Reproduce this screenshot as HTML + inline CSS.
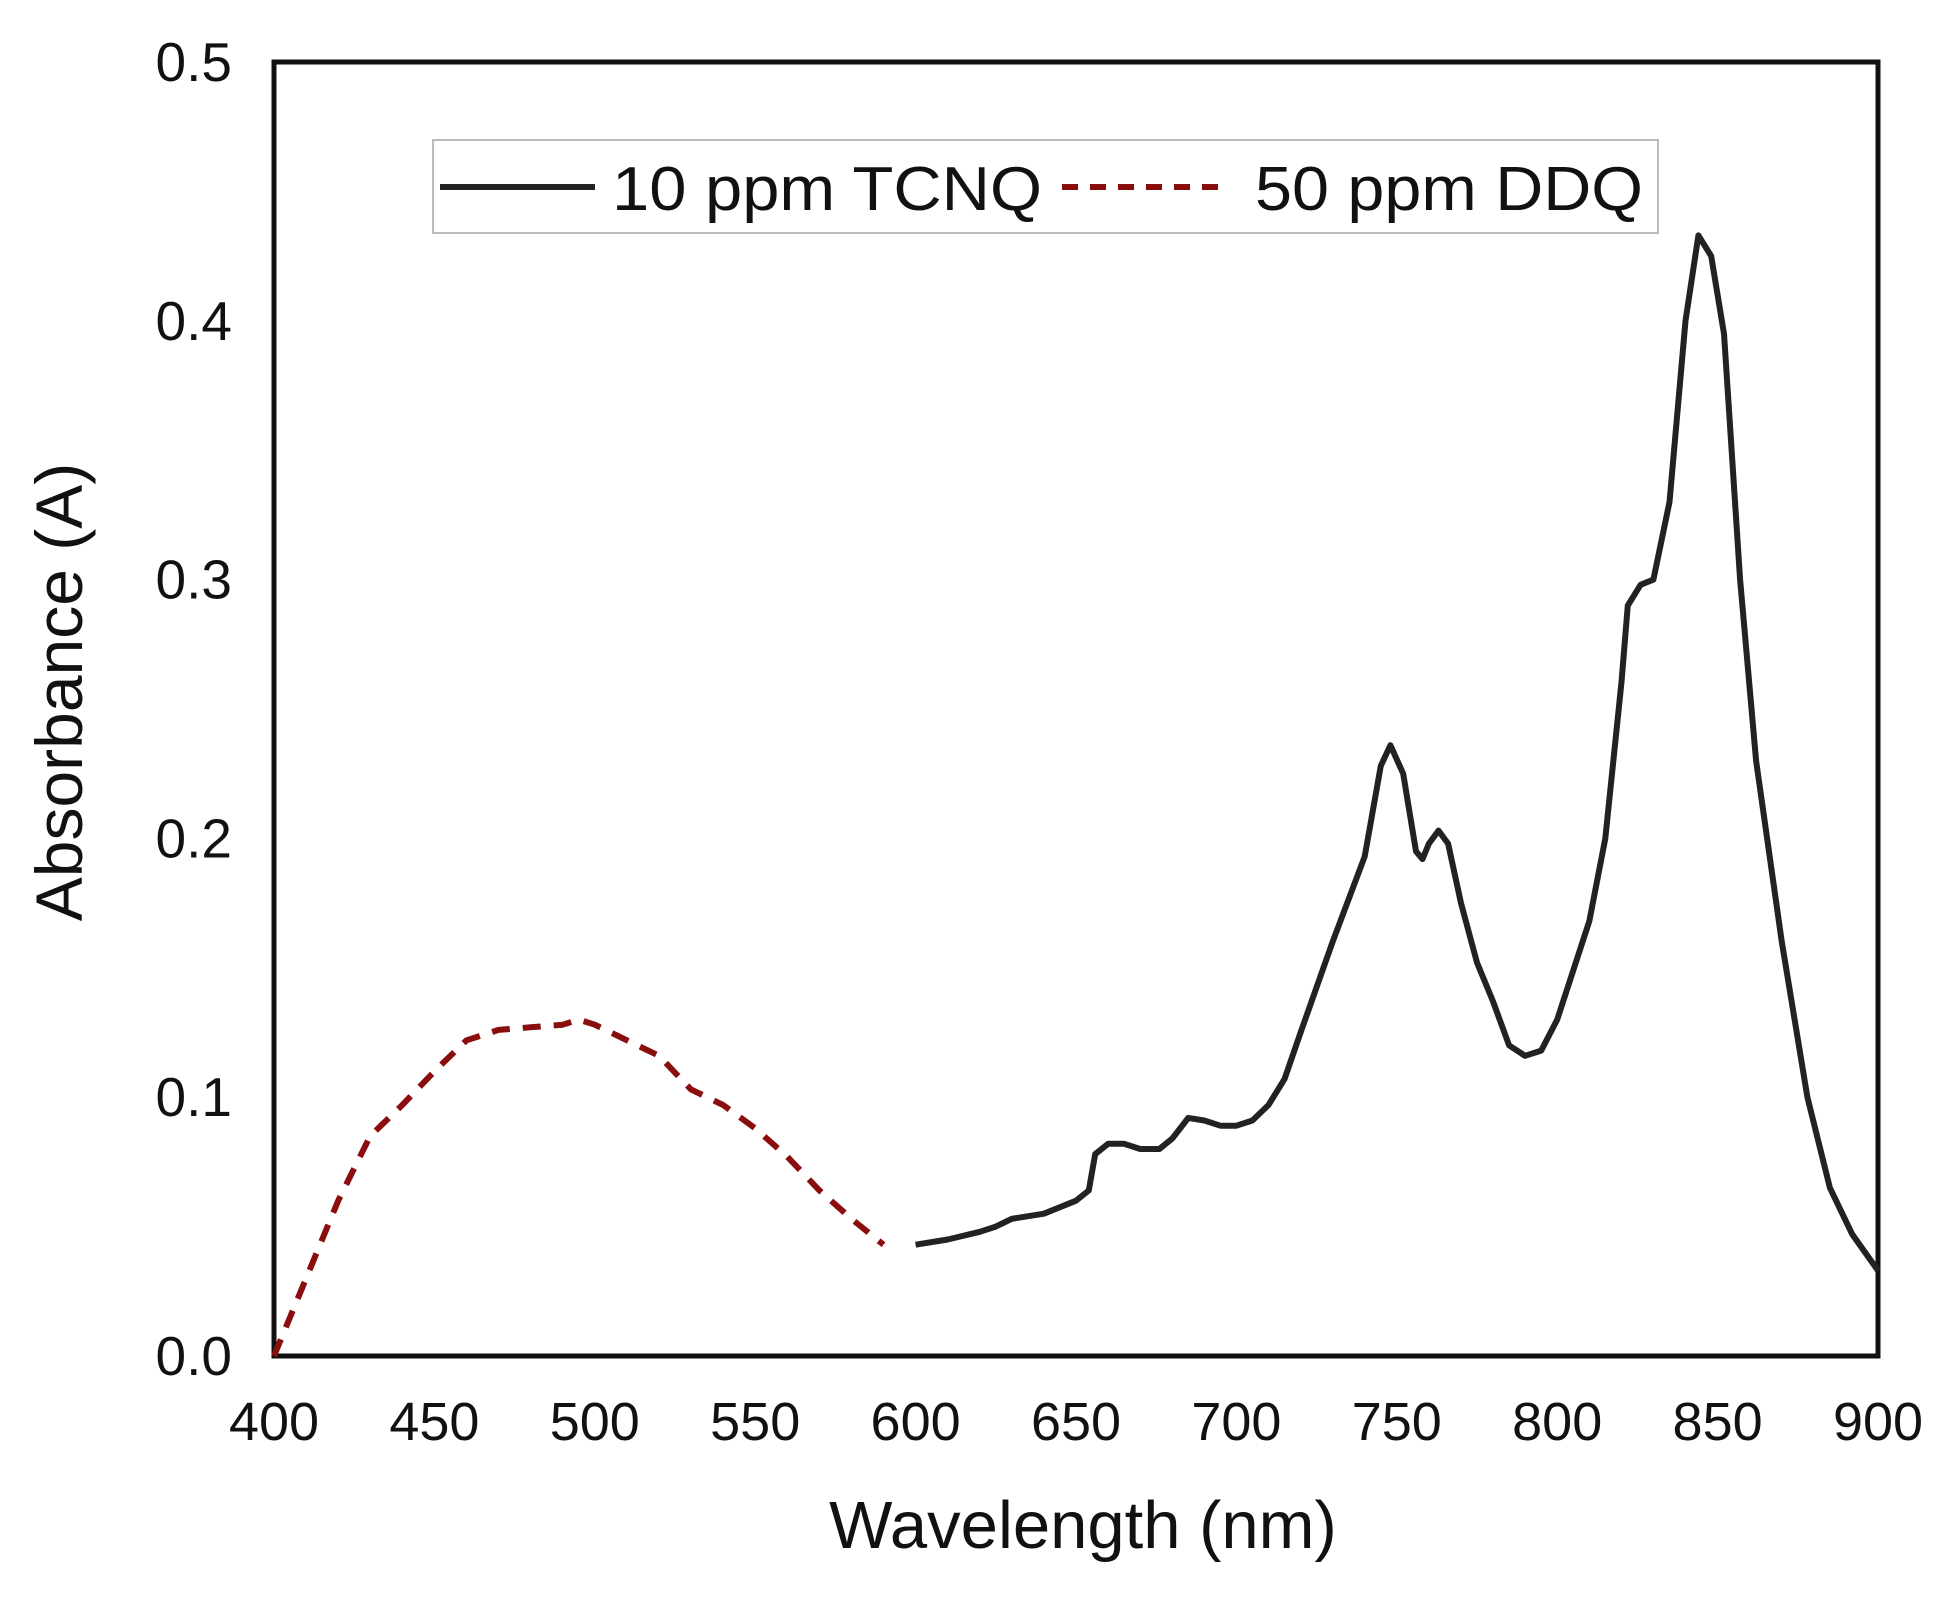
<!DOCTYPE html>
<html><head><meta charset="utf-8"><style>
html,body{margin:0;padding:0;background:#fff;}
svg{display:block;font-family:"Liberation Sans",Arial,sans-serif;}
</style></head><body>
<svg id="chart" width="1954" height="1599" viewBox="0 0 1954 1599">
<g id="plot"></g>
</svg>
<script>
const xTicks=[400,450,500,550,600,650,700,750,800,850,900];
const yTicks=[0.0,0.1,0.2,0.3,0.4,0.5];
const yTickLabels=["0.0","0.1","0.2","0.3","0.4","0.5"];
const ddqX=[400,410,420,430,440,450,460,470,480,490,495,500,510,520,530,540,550,560,570,580,590];
const ddqY=[0.0,0.03,0.06,0.085,0.097,0.11,0.122,0.126,0.127,0.128,0.13,0.128,0.122,0.116,0.103,0.097,0.088,0.077,0.064,0.053,0.043];
const tcnqX=[600,610,620,625,630,640,650,654,656,660,665,670,676,680,685,690,695,700,705,710,715,720,730,740,745,748,752,756,758,760,763,766,770,775,780,785,790,795,800,810,815,820,822,826,830,835,840,844,848,852,857,862,870,878,885,892,900];
const tcnqY=[0.043,0.045,0.048,0.05,0.053,0.055,0.06,0.064,0.078,0.082,0.082,0.08,0.08,0.084,0.092,0.091,0.089,0.089,0.091,0.097,0.107,0.125,0.16,0.193,0.228,0.236,0.225,0.195,0.192,0.198,0.203,0.198,0.175,0.152,0.137,0.12,0.116,0.118,0.13,0.168,0.2,0.26,0.29,0.298,0.3,0.33,0.4,0.433,0.425,0.395,0.3,0.23,0.16,0.1,0.065,0.047,0.033];

const L=274,R=1878,T=62,B=1356;
const xs=v=>L+(v-400)/500*(R-L);
const ys=v=>B-v/0.5*(B-T);
const NS="http://www.w3.org/2000/svg";
const g=document.getElementById('plot');
function mk(tag,attrs){const e=document.createElementNS(NS,tag);for(const k in attrs)e.setAttribute(k,attrs[k]);g.appendChild(e);return e;}

const frame=mk('rect',{x:L,y:T,width:R-L,height:B-T,fill:'none',stroke:'#111','stroke-width':5});



xTicks.forEach(v=>{
  const t=mk('text',{x:xs(v),y:1440,'font-size':54,'text-anchor':'middle',fill:'#111'});
  t.textContent=v;
  
  
});
yTicks.forEach((v,i)=>{
  const t=mk('text',{x:232,y:ys(v)+19,'font-size':55,'text-anchor':'end',fill:'#111'});
  t.textContent=yTickLabels[i];
  
  
});

function pts(X,Y){return X.map((x,i)=>xs(x).toFixed(1)+','+ys(Y[i]).toFixed(1)).join(' ');}
const ddq=mk('polyline',{points:pts(ddqX,ddqY),fill:'none',stroke:'#8b0e0e','stroke-width':6,'stroke-dasharray':'18,13','stroke-linejoin':'round'});


const tc=mk('polyline',{points:pts(tcnqX,tcnqY),fill:'none',stroke:'#222','stroke-width':6,'stroke-linejoin':'round'});



const lg=mk('rect',{x:433,y:140,width:1225,height:93,fill:'#fff',stroke:'#bbb','stroke-width':2});


const l1=mk('line',{x1:440,y1:187,x2:595,y2:187,stroke:'#222','stroke-width':6});


const t1=mk('text',{x:612,y:210,'font-size':62,fill:'#111',textLength:430,lengthAdjust:'spacingAndGlyphs'});t1.textContent='10 ppm TCNQ';


const l2=mk('line',{x1:1062,y1:187,x2:1218,y2:187,stroke:'#8b0e0e','stroke-width':6,'stroke-dasharray':'16,12'});


const t2=mk('text',{x:1255,y:210,'font-size':62,fill:'#111',textLength:388,lengthAdjust:'spacingAndGlyphs'});t2.textContent='50 ppm DDQ';



const xt=mk('text',{x:1083,y:1548,'font-size':67,'text-anchor':'middle',fill:'#111'});xt.textContent='Wavelength (nm)';


const yt=mk('text',{x:0,y:0,'font-size':66,'text-anchor':'middle',fill:'#111',transform:'translate(82,692) rotate(-90)'});yt.textContent='Absorbance (A)';


</script>
</body></html>
